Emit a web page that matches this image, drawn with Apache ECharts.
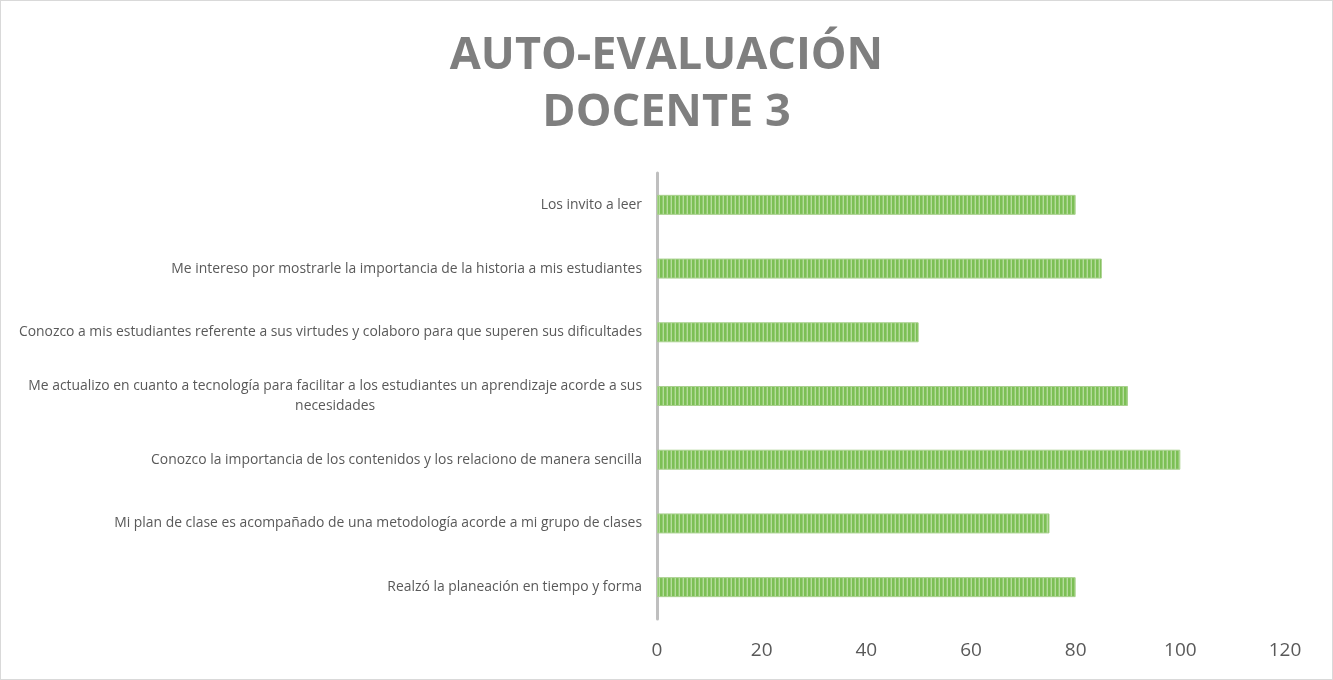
<!DOCTYPE html>
<html><head><meta charset="utf-8">
<script src="https://cdn.jsdelivr.net/npm/echarts@6/dist/echarts.min.js"></script>
<style>html,body{margin:0;padding:0;background:#fff}#c{width:1333px;height:680px;box-sizing:border-box;border:1px solid #d9d9d9}</style>
</head><body><div id="c"></div>
<script>
const titleText = 'AUTO-EVALUACIÓN\nDOCENTE 3';
const categories = [
  'Realzó la planeación en tiempo y forma',
  'Mi plan de clase es acompañado de una metodología acorde a mi grupo de clases',
  'Conozco la importancia de los contenidos y los relaciono de manera sencilla',
  'Me actualizo en cuanto a tecnología para facilitar a los estudiantes un aprendizaje acorde a sus\nnecesidades',
  'Conozco a mis estudiantes referente a sus virtudes y colaboro para que superen sus dificultades',
  'Me intereso por mostrarle la importancia de la historia a mis estudiantes',
  'Los invito a leer'
];
const values = [80, 75, 100, 90, 50, 85, 80];
const xTicks = {min: 0, max: 120, interval: 20};

const pc = document.createElement('canvas');
pc.width = 4; pc.height = 4;
const g = pc.getContext('2d');
g.fillStyle = '#7cbf55'; g.fillRect(0,0,4,4);
g.fillStyle = '#b5dc9c'; g.fillRect(2,0,1,4);
g.fillStyle = '#92cb71'; g.fillRect(1,0,1,4);

const chart = echarts.init(document.getElementById('c'), null, {renderer:'canvas'});
chart.setOption({
  animation: false,
  title: {
    text: titleText, left: 'center', top: 22,
    textStyle: {fontFamily: 'Open Sans', fontWeight: 'bold', fontSize: 45, color: '#7f7f7f', lineHeight: 57}
  },
  grid: {left: 656, right: 47, top: 172, bottom: 60, containLabel: false},
  xAxis: {
    type: 'value', min: xTicks.min, max: xTicks.max, interval: xTicks.interval,
    axisLine: {show: false}, axisTick: {show: false}, splitLine: {show: false},
    axisLabel: {fontFamily: 'Open Sans', fontSize: 19, color: '#595959', margin: 22}
  },
  yAxis: {
    type: 'category', data: categories,
    axisLine: {show: true, lineStyle: {color: '#bfbfbf', width: 3}},
    axisTick: {show: false},
    axisLabel: {
      fontFamily: 'Open Sans', fontSize: 13.9, color: '#595959', margin: 15, align: 'right',
      formatter: v => v.split('\n').map(s => '{c|' + s + '}').join('\n'),
      rich: {c: {align: 'center', fontFamily: 'Open Sans', fontSize: 13.9, color: '#595959', lineHeight: 20}}
    }
  },
  series: [{
    type: 'bar', data: values, barWidth: 20,
    itemStyle: {color: {image: pc, repeat: 'repeat'}, borderColor: '#a9d18e', borderWidth: 1}
  }]
});
</script></body></html>
